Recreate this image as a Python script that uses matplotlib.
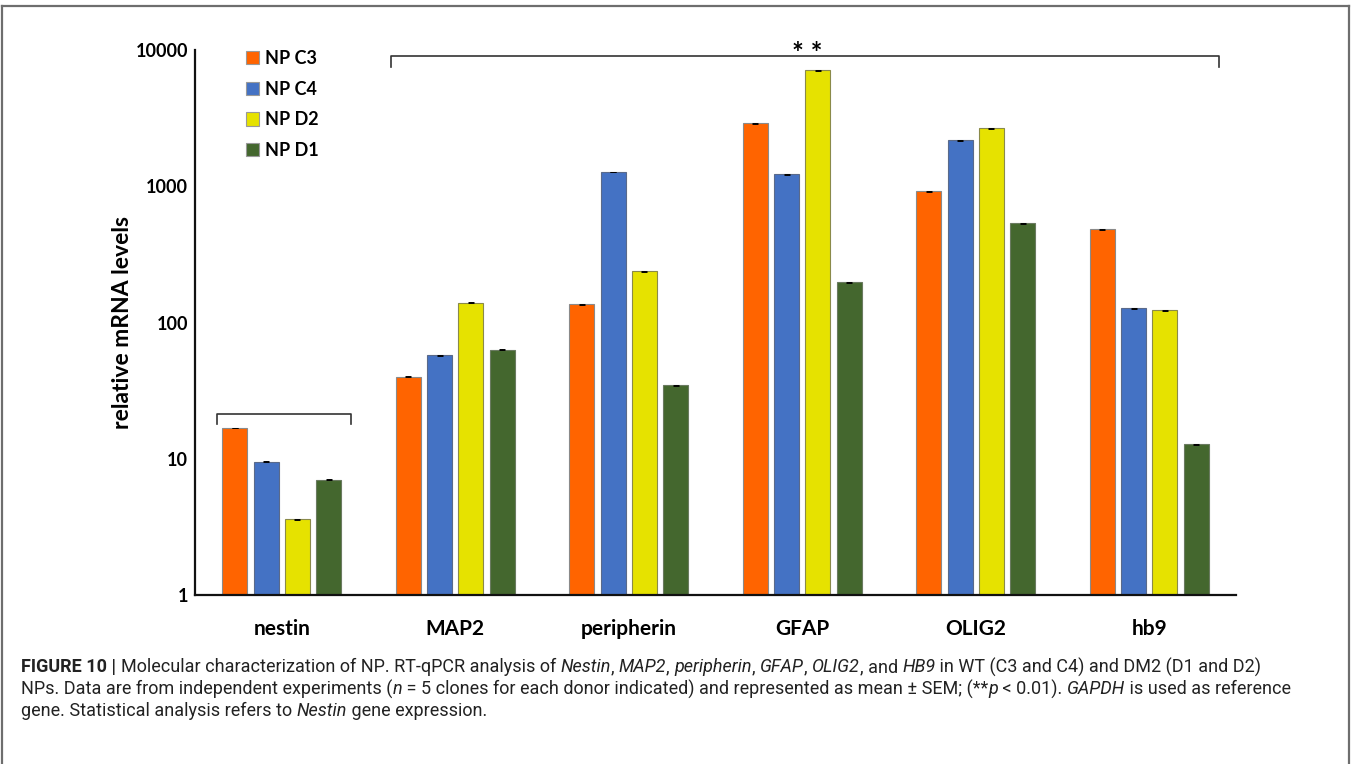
import numpy as np
import matplotlib
matplotlib.use("Agg")
import matplotlib.pyplot as plt
from matplotlib.patches import Patch
from matplotlib.lines import Line2D

# data (log scale)
genes = ["nestin", "MAP2", "peripherin", "GFAP", "OLIG2", "hb9"]
series = ["NP C3", "NP C4", "NP D2", "NP D1"]
np_c3 = [16.8, 40, 136, 2900, 920, 484]
np_c4 = [9.5, 57.5, 1270, 1225, 2180, 127]
np_d2 = [3.6, 140, 237, 7100, 2670, 123]
np_d1 = [7.0, 63, 34.7, 198, 536, 12.8]
sem_c3 = [0.1, 0.3, 0.8, 15, 6, 3]
sem_c4 = [0.08, 0.4, 8, 8, 14, 0.9]
sem_d2 = [0.03, 1.0, 1.5, 40, 18, 0.9]
sem_d1 = [0.06, 0.5, 0.3, 1.5, 4, 0.1]

colors = ["#FF6400", "#4472C4", "#E6E200", "#44672E"]
edges = ["#8a8a8a", "#5a6a8a", "#8a8a4a", "#6a7a60"]

AX_FONT = ["Lato", "DejaVu Sans"]
CAP_FONT = ["Liberation Sans Narrow", "Roboto", "DejaVu Sans"]

fig = plt.figure(figsize=(13.51, 7.64), dpi=100)
ax = fig.add_axes([195 / 1351, 1 - 595 / 764, (1236 - 195) / 1351, (595 - 50) / 764])

x = np.arange(len(genes))
step = 0.181
width = 0.144
vals = [np_c3, np_c4, np_d2, np_d1]
sems = [sem_c3, sem_c4, sem_d2, sem_d1]
for i in range(4):
    pos = x + (i - 1.5) * step
    heights = np.array(vals[i]) - 1
    ax.bar(pos, heights, width=width, bottom=1, color=colors[i],
           edgecolor=edges[i], linewidth=0.8, zorder=2)
    ax.errorbar(pos, vals[i], yerr=sems[i], fmt="none", ecolor="black",
                elinewidth=0.7, capsize=2, capthick=0.7, zorder=3)

ax.set_yscale("log")
ax.set_ylim(1, 10000)
ax.set_xlim(-0.5, len(genes) - 0.5)
ax.set_yticks([1, 10, 100, 1000, 10000])
ax.set_yticklabels(["1", "10", "100", "1000", "10000"])
ax.minorticks_off()
ax.set_xticks(x)
ax.set_xticklabels(genes)
ax.tick_params(length=0, pad=5)
ax.tick_params(axis="x", pad=17)
for lab in ax.get_yticklabels():
    lab.set_family(AX_FONT)
    lab.set_fontweight("bold")
    lab.set_fontsize(13)
for lab in ax.get_xticklabels():
    lab.set_family(AX_FONT)
    lab.set_fontweight("bold")
    lab.set_fontsize(15)
for s in ["top", "right"]:
    ax.spines[s].set_visible(False)
for s in ["left", "bottom"]:
    ax.spines[s].set_linewidth(1.6)
    ax.spines[s].set_color("#111111")
ax.set_ylabel("relative mRNA levels", family=AX_FONT, fontweight="bold",
              fontsize=16.5, labelpad=2)

# significance brackets
def bracket(x0, x1, ytop, ybot, lw=1.2):
    ax.plot([x0, x0, x1, x1], [ybot, ytop, ytop, ybot], color="#333333",
            lw=lw, clip_on=False, zorder=4)

bracket(-0.375, 0.397, 21.3, 18.0)
bracket(0.63, 5.40, 9000, 7480)
ax.text(3.03, 9400, "* *", ha="center", va="center", family=AX_FONT,
        fontweight="bold", fontsize=20)

# legend
handles = [Patch(facecolor=c, edgecolor="#999999", linewidth=0.8) for c in colors]
leg = ax.legend(handles, series, loc="upper left", bbox_to_anchor=(0.033, 1.03),
                frameon=False, handlelength=0.75, handleheight=0.75,
                handletextpad=0.35, labelspacing=0.76,
                prop={"family": AX_FONT, "weight": "bold", "size": 13})

# frame around the figure panel
for xs, ys in [([2, 2], [764, 6]), ([2, 1349], [6, 6]), ([1349, 1349], [6, 764])]:
    fig.add_artist(Line2D([v / 1351 for v in xs], [1 - v / 764 for v in ys],
                          color="#6e6e6e", lw=1.6))

# caption, drawn piece by piece so italic/bold runs can sit in one line
caption = [
    [("FIGURE 10 | ", "bold"), ("Molecular characterization of NP. RT-qPCR analysis of ", "n"),
     ("Nestin", "it"), (", ", "n"), ("MAP2", "it"), (", ", "n"), ("peripherin", "it"),
     (", ", "n"), ("GFAP", "it"), (", ", "n"), ("OLIG2", "it"), (", and ", "n"),
     ("HB9", "it"), (" in WT (C3 and C4) and DM2 (D1 and D2)", "n")],
    [("NPs. Data are from independent experiments (", "n"), ("n", "it"),
     (" = 5 clones for each donor indicated) and represented as mean \u00b1 SEM; (**", "n"),
     ("p", "it"), (" < 0.01). ", "n"), ("GAPDH", "it"), (" is used as reference", "n")],
    [("gene. Statistical analysis refers to ", "n"), ("Nestin", "it"),
     (" gene expression.", "n")],
]
cap_size = 13
renderer = fig.canvas.get_renderer()


def text_width(s, style):
    kw = dict(family=CAP_FONT, fontsize=cap_size)
    if style == "bold":
        kw["fontweight"] = "bold"
    if style == "it":
        kw["style"] = "italic"
    t1 = fig.text(0, 0, "|" + s + "|", **kw)
    t2 = fig.text(0, 0, "||", **kw)
    w = t1.get_window_extent(renderer).width - t2.get_window_extent(renderer).width
    t1.remove()
    t2.remove()
    return w, kw


line_y = [667, 689, 711]
for row, yy in zip(caption, line_y):
    px = 21
    for s, style in row:
        w, kw = text_width(s, style)
        fig.text(px / 1351, 1 - yy / 764, s, va="center", ha="left",
                 color="#222222", **kw)
        px += w

fig.savefig("out.png", dpi=100)
